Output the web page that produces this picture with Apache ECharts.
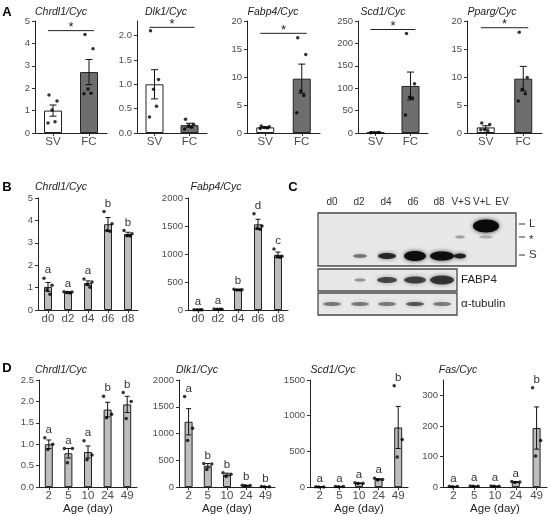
<!DOCTYPE html>
<html><head><meta charset="utf-8">
<script src="https://cdn.jsdelivr.net/npm/echarts@6/dist/echarts.min.js"></script>
<style>html,body{margin:0;padding:0;background:#fff}#c{width:550px;height:516px}</style>
</head><body><div id="c"></div>
<script>
// ---------- DATA ----------
const catsA = ['SV', 'FC'];
const aChrdl1Mean = [1.0, 2.72], aChrdl1Se = [0.25, 0.56];
const aChrdl1Pts = [[1.7, 1.43, 1.03, 0.5, 0.45], [4.4, 3.76, 1.96, 1.77, 1.75]];
const aDlk1Mean = [1.0, 0.16], aDlk1Se = [0.3, 0.04];
const aDlk1Pts = [[2.1, 1.1, 0.9, 0.55, 0.33], [0.28, 0.18, 0.15, 0.12, 0.08]];
const aFabp4Mean = [1.0, 9.7], aFabp4Se = [0.1, 2.6];
const aFabp4Pts = [[1.25, 1.1, 1.0, 0.9, 0.8], [17, 14, 7.5, 6.7, 3.6]];
const aScd1Mean = [1, 105], aScd1Se = [0.2, 31];
const aScd1Pts = [[1.2, 1.0, 0.9, 1.1, 0.8], [222, 110, 80, 78, 40]];
const aPpargMean = [1.0, 9.7], aPpargSe = [0.3, 2.2];
const aPpargPts = [[1.8, 1.5, 0.6, 0.3, 0.6], [18, 9.9, 7.8, 7.0, 5.7]];
const aSigLevels = [4.57, 2.17, 17.8, 231, 18.8];

const catsB = ['d0', 'd2', 'd4', 'd6', 'd8'];
const bChrdl1Mean = [1.03, 0.79, 1.2, 3.83, 3.39], bChrdl1Se = [0.2, 0.03, 0.1, 0.3, 0.08];
const bChrdl1Pts = [[1.42, 1.1, 0.9, 0.7], [0.82, 0.8, 0.78, 0.76], [1.38, 1.25, 1.15, 1.02], [4.4, 3.85, 3.55, 3.52], [3.55, 3.4, 3.32, 3.3]];
const bChrdl1Letters = ['a', 'a', 'a', 'b', 'b'];
const bFabp4Mean = [5, 15, 362, 1530, 985], bFabp4Se = [2, 4, 8, 90, 50];
const bFabp4Pts = [[6, 5, 4, 5], [18, 15, 12, 15], [370, 362, 358, 358], [1720, 1500, 1460, 1440], [1090, 960, 950, 940]];
const bFabp4Letters = ['a', 'a', 'b', 'd', 'c'];

const blotLanes = ['d0', 'd2', 'd4', 'd6', 'd8', 'V+S', 'V+L', 'EV'];

const catsD = ['2', '5', '10', '24', '49'];
const dChrdl1Mean = [1.0, 0.79, 0.82, 1.81, 1.93], dChrdl1Se = [0.1, 0.11, 0.14, 0.17, 0.19];
const dChrdl1Pts = [[1.15, 1.0, 0.88], [0.9, 0.9, 0.57], [1.08, 0.75, 0.64], [2.12, 1.7, 1.62], [2.21, 2.0, 1.6]];
const dChrdl1Letters = ['a', 'a', 'a', 'b', 'b'];
const dDlk1Mean = [1220, 400, 235, 30, 8], dDlk1Se = [245, 40, 25, 5, 3];
const dDlk1Pts = [[1690, 1100, 870], [440, 430, 330], [270, 240, 200], [35, 30, 25], [10, 8, 6]];
const dDlk1Letters = ['a', 'b', 'b', 'b', 'b'];
const dScd1Mean = [3, 8, 55, 110, 835], dScd1Se = [1, 2, 5, 8, 295];
const dScd1Pts = [[4, 3, 2], [10, 8, 6], [60, 55, 50], [125, 105, 100], [1420, 665, 420]];
const dScd1Letters = ['a', 'a', 'a', 'a', 'b'];
const dFasMean = [2, 3, 3, 17, 193], dFasSe = [0.5, 0.6, 0.6, 1, 69];
const dFasPts = [[2.5, 2, 1.5], [3.5, 3, 2.5], [3.5, 3, 2.5], [18, 17, 15], [325, 152, 102]];
const dFasLetters = ['a', 'a', 'a', 'a', 'b'];

// ---------- BUILD ----------
const FONT = 'Liberation Sans, Arial, sans-serif';
const option = { animation: false, backgroundColor: '#fff', grid: [], xAxis: [], yAxis: [], series: [], graphic: [] };
const jitter = [-4, 4, -1, 2, -5, 1];

function addPanel(p) {
  const gi = option.grid.length;
  option.grid.push({ left: p.left, top: p.top, width: p.width, height: p.height });
  option.xAxis.push({
    type: 'category', gridIndex: gi, data: p.cats,
    axisLine: { lineStyle: { color: '#222', width: 1 } },
    axisTick: { show: true, alignWithLabel: true, length: 3, lineStyle: { color: '#333' } },
    axisLabel: { color: '#4d4d4d', fontSize: 11.5, margin: 3, fontFamily: FONT },
    name: p.xName || '', nameLocation: 'middle', nameGap: 15,
    nameTextStyle: { color: '#222', fontSize: 11.5, fontFamily: FONT }
  });
  const ylab = { color: '#4d4d4d', fontSize: 9.5, margin: 5, fontFamily: FONT, formatter: p.fmt || (v => String(v)) };
  const ytick = { show: true, length: 3, lineStyle: { color: '#333' } };
  if (p.custom) { ylab.customValues = p.custom; ytick.customValues = p.custom; }
  option.yAxis.push({
    type: 'value', gridIndex: gi, min: 0, max: p.max, interval: p.interval,
    axisLine: { show: true, lineStyle: { color: '#222', width: 1 } },
    axisTick: ytick, splitLine: { show: false }, axisLabel: ylab
  });
  option.series.push({
    type: 'bar', xAxisIndex: gi, yAxisIndex: gi, barWidth: p.barWidth, silent: true,
    itemStyle: { borderColor: '#222', borderWidth: 1 },
    data: p.mean.map((v, i) => ({ value: v, itemStyle: { color: p.colors[i] } }))
  });
  const cap = p.cap;
  option.series.push({
    type: 'custom', xAxisIndex: gi, yAxisIndex: gi, silent: true, z: 5,
    data: p.mean.map((v, i) => [i, v, p.se[i], Math.max(v + p.se[i], ...p.pts[i])]),
    renderItem: (params, api) => {
      const i = api.value(0), m = api.value(1), e = api.value(2);
      const t = api.coord([i, m + e]), b = api.coord([i, Math.max(0, m - e)]);
      const st = { stroke: '#111', lineWidth: 1 };
      const ch = [
        { type: 'line', shape: { x1: t[0], y1: t[1], x2: b[0], y2: b[1] }, style: st },
        { type: 'line', shape: { x1: t[0] - cap, y1: t[1], x2: t[0] + cap, y2: t[1] }, style: st },
        { type: 'line', shape: { x1: b[0] - cap, y1: b[1], x2: b[0] + cap, y2: b[1] }, style: st }
      ];
      if (p.letters) {
        const yy = api.coord([i, api.value(3)])[1];
        ch.push({ type: 'text', style: { text: p.letters[params.dataIndex], x: t[0], y: yy - 8, align: 'center', verticalAlign: 'middle', fontSize: 11.5, fontFamily: FONT, fill: '#333' } });
      }
      return { type: 'group', children: ch };
    }
  });
  const pts = [];
  p.pts.forEach((arr, i) => arr.forEach((v, j) => pts.push({ value: [i, v], symbolOffset: [jitter[j % jitter.length], 0] })));
  option.series.push({
    type: 'scatter', xAxisIndex: gi, yAxisIndex: gi, silent: true, z: 6,
    symbolSize: 3.5, itemStyle: { color: '#000' }, data: pts
  });
  if (p.sig !== undefined) {
    option.series.push({
      type: 'custom', xAxisIndex: gi, yAxisIndex: gi, silent: true, z: 6,
      data: [[0, p.sig]],
      renderItem: (params, api) => {
        const a = api.coord([0, api.value(1)]), b = api.coord([1, api.value(1)]);
        return { type: 'group', children: [
          { type: 'line', shape: { x1: a[0] - 5, y1: a[1], x2: b[0] + 5, y2: b[1] }, style: { stroke: '#222', lineWidth: 1 } },
          { type: 'text', style: { text: '*', x: (a[0] + b[0]) / 2, y: a[1] - 3, align: 'center', verticalAlign: 'middle', fontSize: 13, fontFamily: FONT, fill: '#222' } }
        ] };
      }
    });
  }
  option.graphic.push({ type: 'text', x: p.titleX, y: p.titleY, style: { text: p.title, fontSize: 10.5, fontStyle: 'italic', fontFamily: FONT, fill: '#1a1a1a', align: 'center', verticalAlign: 'middle' } });
}

const f1 = v => v.toFixed(1);
const A_COL = ['#ffffff', '#6e6e6e'];
const G = '#bdbdbd';
const GC = [G, G, G, G, G];

// Panel A
addPanel({ left: 35, top: 21, width: 72, height: 112, cats: catsA, mean: aChrdl1Mean, se: aChrdl1Se, pts: aChrdl1Pts, max: 5, interval: 1, colors: A_COL, barWidth: 18, cap: 3.5, sig: aSigLevels[0], title: 'Chrdl1/Cyc', titleX: 61, titleY: 12 });
addPanel({ left: 137, top: 21, width: 70, height: 112, cats: catsA, mean: aDlk1Mean, se: aDlk1Se, pts: aDlk1Pts, max: 2.3, interval: 0.5, custom: [0, 0.5, 1, 1.5, 2], fmt: f1, colors: A_COL, barWidth: 18, cap: 3.5, sig: aSigLevels[1], title: 'Dlk1/Cyc', titleX: 166, titleY: 12 });
addPanel({ left: 247, top: 21, width: 73, height: 112, cats: catsA, mean: aFabp4Mean, se: aFabp4Se, pts: aFabp4Pts, max: 20, interval: 5, colors: A_COL, barWidth: 18, cap: 3.5, sig: aSigLevels[2], title: 'Fabp4/Cyc', titleX: 273, titleY: 12 });
addPanel({ left: 358, top: 21, width: 70, height: 112, cats: catsA, mean: aScd1Mean, se: aScd1Se, pts: aScd1Pts, max: 250, interval: 50, colors: A_COL, barWidth: 18, cap: 3.5, sig: aSigLevels[3], title: 'Scd1/Cyc', titleX: 383, titleY: 12 });
addPanel({ left: 467, top: 21, width: 75, height: 112, cats: catsA, mean: aPpargMean, se: aPpargSe, pts: aPpargPts, max: 20, interval: 5, colors: A_COL, barWidth: 18, cap: 3.5, sig: aSigLevels[4], title: 'Pparg/Cyc', titleX: 492, titleY: 12 });

// Panel B
addPanel({ left: 38, top: 198, width: 100, height: 112, cats: catsB, mean: bChrdl1Mean, se: bChrdl1Se, pts: bChrdl1Pts, letters: bChrdl1Letters, max: 5, interval: 1, colors: GC, barWidth: 8, cap: 2.5, title: 'Chrdl1/Cyc', titleX: 61, titleY: 187 });
addPanel({ left: 188, top: 198, width: 100, height: 112, cats: catsB, mean: bFabp4Mean, se: bFabp4Se, pts: bFabp4Pts, letters: bFabp4Letters, max: 2000, interval: 500, colors: GC, barWidth: 8, cap: 2.5, title: 'Fabp4/Cyc', titleX: 216, titleY: 187 });

// Panel D
addPanel({ left: 39, top: 380, width: 98, height: 109, cats: catsD, mean: dChrdl1Mean, se: dChrdl1Se, pts: dChrdl1Pts, letters: dChrdl1Letters, max: 2.5, interval: 0.5, fmt: f1, colors: GC, barWidth: 8, cap: 2.5, xName: 'Age (day)', title: 'Chrdl1/Cyc', titleX: 61, titleY: 370 });
addPanel({ left: 179, top: 380, width: 96, height: 109, cats: catsD, mean: dDlk1Mean, se: dDlk1Se, pts: dDlk1Pts, letters: dDlk1Letters, max: 2000, interval: 500, colors: GC, barWidth: 8, cap: 2.5, xName: 'Age (day)', title: 'Dlk1/Cyc', titleX: 197, titleY: 370 });
addPanel({ left: 310, top: 380, width: 98, height: 109, cats: catsD, mean: dScd1Mean, se: dScd1Se, pts: dScd1Pts, letters: dScd1Letters, max: 1500, interval: 500, colors: GC, barWidth: 8, cap: 2.5, xName: 'Age (day)', title: 'Scd1/Cyc', titleX: 333, titleY: 370 });
addPanel({ left: 443, top: 380, width: 104, height: 109, cats: catsD, mean: dFasMean, se: dFasSe, pts: dFasPts, letters: dFasLetters, max: 350, interval: 100, custom: [0, 100, 200, 300], colors: GC, barWidth: 8, cap: 2.5, xName: 'Age (day)', title: 'Fas/Cyc', titleX: 458, titleY: 370 });

// Panel letters
[['A', 7, 12], ['B', 7, 187], ['C', 293, 187], ['D', 7, 368]].forEach(([t, x, y]) => {
  option.graphic.push({ type: 'text', x, y, style: { text: t, fontSize: 13, fontWeight: 'bold', fontFamily: FONT, fill: '#000', align: 'center', verticalAlign: 'middle' } });
});

// ---------- Panel C: western blot (image-like drawing) ----------
const laneLabelX = [332, 359, 386, 413, 439, 461, 482, 502];
const laneBandX = [332, 360, 387, 415, 442, 460, 486, 503];
blotLanes.forEach((t, i) => option.graphic.push({ type: 'text', x: laneLabelX[i], y: 202, style: { text: t, fontSize: 10, fontFamily: FONT, fill: '#333', align: 'center', verticalAlign: 'middle' } }));
const boxStyle = { fill: '#e8e8e8', stroke: '#4a4a4a', lineWidth: 1.3 };
option.graphic.push({ type: 'rect', shape: { x: 318, y: 213, width: 198, height: 53 }, style: boxStyle, z: 1 });
option.graphic.push({ type: 'rect', shape: { x: 318, y: 269, width: 139, height: 22 }, style: boxStyle, z: 1 });
option.graphic.push({ type: 'rect', shape: { x: 318, y: 293, width: 139, height: 22 }, style: boxStyle, z: 1 });
function band(lane, cy, rx, ry, a, dx) {
  option.graphic.push({ type: 'ellipse', z: 2, shape: { cx: laneBandX[lane] + (dx || 0), cy, rx, ry }, style: { fill: 'rgba(10,10,10,' + a + ')', shadowBlur: 4, shadowColor: 'rgba(0,0,0,' + a * 0.8 + ')' } });
}
// S bands
band(1, 256, 7, 2, 0.45); band(2, 256, 9, 3, 0.8); band(3, 256, 11, 5, 0.97); band(4, 256, 12, 4.5, 0.97); band(5, 256, 6, 2.5, 0.85);
// L band
band(6, 226, 13, 6.5, 1);
// * bands
band(5, 237, 5, 1.5, 0.3); band(6, 237, 7, 1.5, 0.25);
// FABP4
band(1, 280, 6, 1.5, 0.35); band(2, 280, 10, 3, 0.65); band(3, 280, 11, 3.5, 0.68); band(4, 280, 12, 4.5, 0.72);
// tubulin
[0, 1, 2, 3, 4].forEach(i => band(i, 304, 9, 2, i === 3 ? 0.6 : 0.45));
// side labels
[['L', 224], ['*', 237], ['S', 255]].forEach(([t, y]) => {
  option.graphic.push({ type: 'line', shape: { x1: 519, y1: y, x2: 525, y2: y }, style: { stroke: '#333', lineWidth: 1 } });
  option.graphic.push({ type: 'text', x: 529, y: t === '*' ? y + 3 : y, style: { text: t, fontSize: 11.5, fontFamily: FONT, fill: '#333', verticalAlign: 'middle' } });
});
option.graphic.push({ type: 'text', x: 461, y: 280, style: { text: 'FABP4', fontSize: 11.5, fontFamily: FONT, fill: '#222', verticalAlign: 'middle' } });
option.graphic.push({ type: 'text', x: 461, y: 304, style: { text: 'α-tubulin', fontSize: 11.5, fontFamily: FONT, fill: '#222', verticalAlign: 'middle' } });

const chart = echarts.init(document.getElementById('c'), null, { renderer: 'canvas' });
chart.setOption(option);
</script>
</body></html>
